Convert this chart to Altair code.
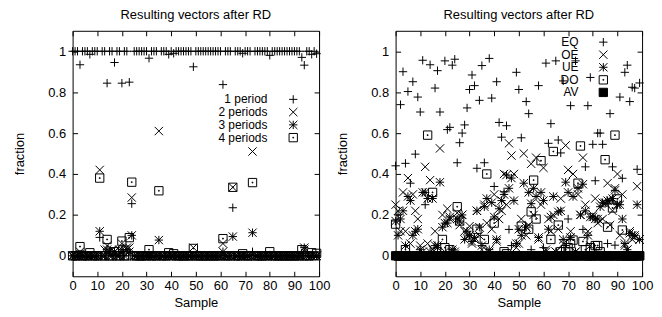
import altair as alt
import pandas as pd

samples = list(range(100))

# ---------------- left panel ----------------
left_series = ["1 period", "2 periods", "3 periods", "4 periods"]
left_p1 = [1, 1, 1, 0.934, 1, 1, 1, 0.985, 1, 1,
           1, 0.09, 1, 1, 0.844, 1, 1, 0.945, 1, 1,
           0.844, 1, 1, 0.849, 0.255, 1, 1, 1, 1, 1,
           1, 0.966, 1, 1, 1, 0, 1, 1, 1, 0.985,
           1, 0.99, 1, 1, 1, 1, 1, 1, 1, 0.924,
           1, 1, 1, 1, 1, 1, 1, 1, 1, 1,
           1, 0.837, 1, 1, 1, 0.235, 1, 1, 1, 0.99,
           1, 1, 1, 0.02, 1, 1, 1, 1, 1, 1,
           0.98, 1, 1, 1, 1, 1, 1, 1, 1, 1,
           1, 1, 1, 0.97, 0.932, 1, 1, 0.985, 1, 0.988]
left_p2 = [0, 0, 0, 0.02, 0, 0, 0, 0, 0, 0,
           0, 0.42, 0, 0.03, 0.05, 0, 0.03, 0.02, 0, 0.03,
           0.06, 0.03, 0.04, 0.04, 0.285, 0, 0, 0, 0, 0,
           0, 0, 0, 0, 0, 0.61, 0, 0, 0, 0,
           0, 0, 0, 0, 0, 0, 0, 0, 0, 0.04,
           0, 0, 0, 0, 0, 0, 0, 0, 0, 0,
           0, 0.06, 0, 0, 0, 0.335, 0, 0, 0, 0,
           0, 0, 0, 0.51, 0, 0, 0, 0, 0, 0,
           0, 0, 0, 0, 0, 0, 0, 0, 0, 0,
           0, 0, 0, 0, 0.03, 0, 0, 0, 0, 0]
left_p3 = [0, 0, 0, 0, 0, 0, 0, 0, 0, 0,
           0, 0.12, 0, 0, 0.03, 0.02, 0, 0.02, 0, 0,
           0.03, 0, 0.03, 0.02, 0.10, 0, 0, 0, 0, 0,
           0, 0, 0, 0, 0, 0.077, 0, 0, 0, 0,
           0, 0, 0, 0, 0, 0, 0, 0, 0, 0,
           0, 0, 0, 0, 0, 0, 0, 0, 0, 0,
           0, 0.02, 0, 0, 0, 0.094, 0, 0, 0, 0,
           0, 0, 0, 0.113, 0, 0, 0, 0, 0, 0,
           0, 0, 0, 0, 0, 0, 0, 0, 0, 0,
           0, 0, 0, 0, 0.04, 0, 0, 0, 0, 0]
left_p4 = [0, 0, 0, 0.045, 0, 0, 0, 0.015, 0, 0,
           0, 0.38, 0, 0, 0.08, 0, 0, 0.02, 0, 0,
           0.072, 0, 0, 0.089, 0.36, 0, 0, 0, 0, 0,
           0, 0.03, 0, 0, 0, 0.318, 0, 0, 0, 0.015,
           0, 0.01, 0, 0, 0, 0, 0, 0, 0, 0.036,
           0, 0, 0, 0, 0, 0, 0, 0, 0, 0,
           0, 0.084, 0, 0, 0, 0.335, 0, 0, 0, 0.01,
           0, 0, 0, 0.358, 0, 0, 0, 0, 0, 0,
           0.02, 0, 0, 0, 0, 0, 0, 0, 0, 0,
           0, 0, 0, 0.03, 0, 0, 0, 0.015, 0, 0.012]

# ---------------- right panel ----------------
right_series = ["EQ", "OE", "UE", "DO", "AV"]
right_eq = [0.44, 0.20, 0.739, 0.90, 0.452, 0.803, 0.355, 0.851, 0.497, 0.776,
            0.703, 0.956, 0.25, 0.0, 0.934, 0.0, 0.82, 0.905, 0.703, 0.0,
            0.953, 0.617, 0.628, 0.932, 0.961, 0.455, 0.553, 0.60, 0.64, 0.723,
            0.813, 0.884, 0.832, 0.428, 0.76, 0.93, 0.455, 0.02, 0.965, 0.771,
            0.339, 0.851, 0.652, 0.58, 0.313, 0.636, 0.129, 0.05, 0.0, 0.897,
            0.813, 0.577, 0.0, 0.754, 0.695, 0.03, 0.0, 0.0, 0.832, 0.0,
            0.04, 0.942, 0.55, 0.646, 0.0, 0.953, 0.566, 0.503, 0.855, 0.04,
            0.18, 0.734, 0.0, 0.953, 0.0, 0.0, 0.129, 0.435, 0.734, 0.872,
            0.545, 0.367, 0.60, 0.60, 0.545, 0.0, 0.06, 0.695, 0.435, 0.052,
            0.0, 0.776, 0.379, 0.897, 0.932, 0.754, 0.824, 0.82, 0.423, 0.845]
right_oe = [0.25, 0.22, 0.12, 0.31, 0.12, 0.38, 0.06, 0.30, 0.22, 0.18,
            0.05, 0.02, 0.435, 0.06, 0.37, 0.03, 0.12, 0.05, 0.525, 0.20,
            0.02, 0.23, 0.18, 0.02, 0.01, 0.21, 0.15, 0.20, 0.12, 0.10,
            0.145, 0.06, 0.08, 0.22, 0.10, 0.03, 0.25, 0.16, 0.02, 0.13,
            0.30, 0.07, 0.18, 0.22, 0.40, 0.25, 0.55, 0.49, 0.40, 0.04,
            0.06, 0.18, 0.50, 0.10, 0.15, 0.45, 0.20, 0.48, 0.08, 0.25,
            0.43, 0.03, 0.18, 0.12, 0.20, 0.02, 0.13, 0.28, 0.06, 0.54,
            0.42, 0.12, 0.40, 0.02, 0.30, 0.20, 0.48, 0.25, 0.12, 0.05,
            0.20, 0.28, 0.16, 0.17, 0.18, 0.26, 0.355, 0.15, 0.22, 0.33,
            0.40, 0.10, 0.30, 0.05, 0.03, 0.12, 0.08, 0.09, 0.34, 0.08]
right_ue = [0.17, 0.10, 0.18, 0.22, 0.05, 0.29, 0.27, 0.10, 0.12, 0.13,
            0.03, 0.31, 0.31, 0.28, 0.02, 0.28, 0.05, 0.04, 0.36, 0.14,
            0.16, 0.16, 0.19, 0.03, 0.02, 0.18, 0.17, 0.20, 0.08, 0.12,
            0.10, 0.07, 0.09, 0.22, 0.14, 0.05, 0.24, 0.28, 0.03, 0.26,
            0.19, 0.08, 0.23, 0.27, 0.30, 0.395, 0.33, 0.38, 0.27, 0.06,
            0.13, 0.10, 0.355, 0.14, 0.31, 0.255, 0.33, 0.29, 0.09, 0.31,
            0.27, 0.02, 0.13, 0.19, 0.29, 0.02, 0.215, 0.22, 0.08, 0.36,
            0.31, 0.09, 0.29, 0.02, 0.33, 0.20, 0.35, 0.22, 0.10, 0.19,
            0.19, 0.18, 0.18, 0.24, 0.26, 0.255, 0.27, 0.27, 0.28, 0.32,
            0.25, 0.25, 0.18, 0.06, 0.03, 0.11, 0.10, 0.10, 0.25, 0.08]
right_do = [0.155, 0, 0, 0, 0.03, 0, 0, 0, 0, 0,
            0, 0, 0, 0.59, 0, 0.31, 0, 0, 0, 0.08,
            0.04, 0, 0.03, 0, 0, 0.24, 0.17, 0, 0, 0,
            0, 0, 0, 0.13, 0, 0, 0.08, 0.40, 0, 0,
            0.16, 0, 0, 0, 0.02, 0.01, 0, 0, 0, 0,
            0, 0.145, 0, 0, 0.13, 0.215, 0.37, 0.18, 0, 0.465,
            0, 0, 0, 0.08, 0.51, 0, 0.15, 0.02, 0, 0.03,
            0.04, 0.06, 0.077, 0, 0.355, 0.537, 0.07, 0.03, 0, 0.04,
            0, 0.05, 0.05, 0.02, 0, 0.47, 0.14, 0, 0.234, 0.59,
            0.278, 0, 0.126, 0, 0, 0, 0, 0, 0, 0]
right_av = [0] * 100

x_ticks = [0, 10, 20, 30, 40, 50, 60, 70, 80, 90, 100]
y_ticks = [0, 0.2, 0.4, 0.6, 0.8, 1]

# ---------------- styling ----------------
FONT = "Liberation Sans"
W, H = 248, 247
PLUS = "M-1,0H1M0,-1V1"
CROSS = "M-1,-1L1,1M-1,1L1,-1"
STAR = "M-1,0H1M0,-1V1M-1,-1L1,1M-1,1L1,-1"
BOX = "M-1,-1H1V1H-1ZM-0.1,-0.1H0.1V0.1H-0.1Z"
SIZE = 70


def long_df(series, columns):
    rows = []
    for name, vals in zip(series, columns):
        for s, v in zip(samples, vals):
            rows.append({"sample": s, "value": v, "series": name})
    return pd.DataFrame(rows)


xs = alt.Scale(domain=[0, 100], nice=False, zero=False)
ys = alt.Scale(domain=[-0.1, 1.1], nice=False, zero=False)


def panel(df, series, shapes, fills, label_right, sym_x, row_top, row_bottom, key_font):
    shape_scale = alt.Scale(domain=series, range=shapes)
    fill_scale = alt.Scale(domain=series, range=fills)
    pts = alt.Chart(df).mark_point(filled=True, opacity=1, size=SIZE, strokeWidth=1).encode(
        x=alt.X("sample:Q", scale=xs,
                axis=alt.Axis(values=x_ticks, ticks=False, domain=False, grid=False,
                              labelFlush=False, labelPadding=3, title="Sample",
                              titlePadding=4)),
        y=alt.Y("value:Q", scale=ys,
                axis=alt.Axis(values=y_ticks, format="~g", ticks=False, domain=False,
                              grid=False, labelPadding=7, title="fraction", titlePadding=21)),
        shape=alt.Shape("series:N", scale=shape_scale, legend=None),
        fill=alt.Fill("series:N", scale=fill_scale, legend=None),
        stroke=alt.value("black"),
    )
    helper = pd.DataFrame({"sample": [0], "value": [0]})
    t1 = alt.Chart(helper).mark_point(opacity=0).encode(
        x=alt.X("sample:Q", scale=xs,
                axis=alt.Axis(orient="top", offset=-H, values=x_ticks, labels=False,
                              ticks=True, tickSize=5, domain=False, grid=False, title=None)),
        y=alt.Y("value:Q", scale=ys,
                axis=alt.Axis(orient="right", offset=-W, values=y_ticks, labels=False,
                              ticks=True, tickSize=5, domain=False, grid=False, title=None)),
    )
    t2 = alt.Chart(helper).mark_point(opacity=0).encode(
        x=alt.X("sample:Q", scale=xs,
                axis=alt.Axis(orient="bottom", offset=-H, values=x_ticks, labels=False,
                              ticks=True, tickSize=5, domain=False, grid=False, title=None)),
        y=alt.Y("value:Q", scale=ys,
                axis=alt.Axis(orient="left", offset=-W, values=y_ticks, labels=False,
                              ticks=True, tickSize=5, domain=False, grid=False, title=None)),
    )
    # key (legend) drawn gnuplot style: label right-aligned, symbol on its right
    key_df = pd.DataFrame({"series": series})
    key_y = alt.Y("series:N", scale=alt.Scale(domain=series, range=[row_top, row_bottom],
                                               padding=0), axis=None)
    key_text = alt.Chart(key_df).mark_text(align="right", baseline="middle",
                                           fontSize=key_font, font=FONT,
                                           color="black").encode(
        x=alt.value(label_right), y=key_y, text="series:N")
    key_sym = alt.Chart(key_df).mark_point(filled=True, opacity=1, size=SIZE,
                                           strokeWidth=1).encode(
        x=alt.value(sym_x), y=key_y,
        shape=alt.Shape("series:N", scale=shape_scale, legend=None),
        fill=alt.Fill("series:N", scale=fill_scale, legend=None),
        stroke=alt.value("black"),
    )
    return alt.layer(pts, t1, t2, key_text, key_sym).resolve_axis(
        x="independent", y="independent").resolve_scale(y="independent").properties(
        width=W, height=H,
        title=alt.Title("Resulting vectors after RD", fontSize=13, fontWeight="normal",
                        font=FONT, anchor="middle", frame="group", offset=8, color="black"),
    )


left_df = long_df(left_series, [left_p1, left_p2, left_p3, left_p4])
right_df = long_df(right_series, [right_eq, right_oe, right_ue, right_do, right_av])

left = panel(left_df, left_series, [PLUS, CROSS, STAR, BOX],
             ["transparent"] * 4, 196, 222, 69, 107.5, 12)
right = panel(right_df, right_series, [PLUS, CROSS, STAR, BOX, "square"],
              ["transparent"] * 4 + ["black"], 184, 209, 11.4, 62, 12)

chart = alt.hconcat(left, right, spacing=5).resolve_scale(
    shape="independent", fill="independent", x="independent", y="independent"
).properties(padding={"left": 5, "top": 0, "right": 0, "bottom": 0}).configure_view(
    stroke="black", strokeWidth=1).configure_axis(
    labelFont=FONT, titleFont=FONT, labelFontSize=13, titleFontSize=13,
    titleFontWeight="normal", labelColor="black", titleColor="black", tickColor="black",
)

chart.save("out.html", embed_options={"renderer": "svg", "actions": False})
